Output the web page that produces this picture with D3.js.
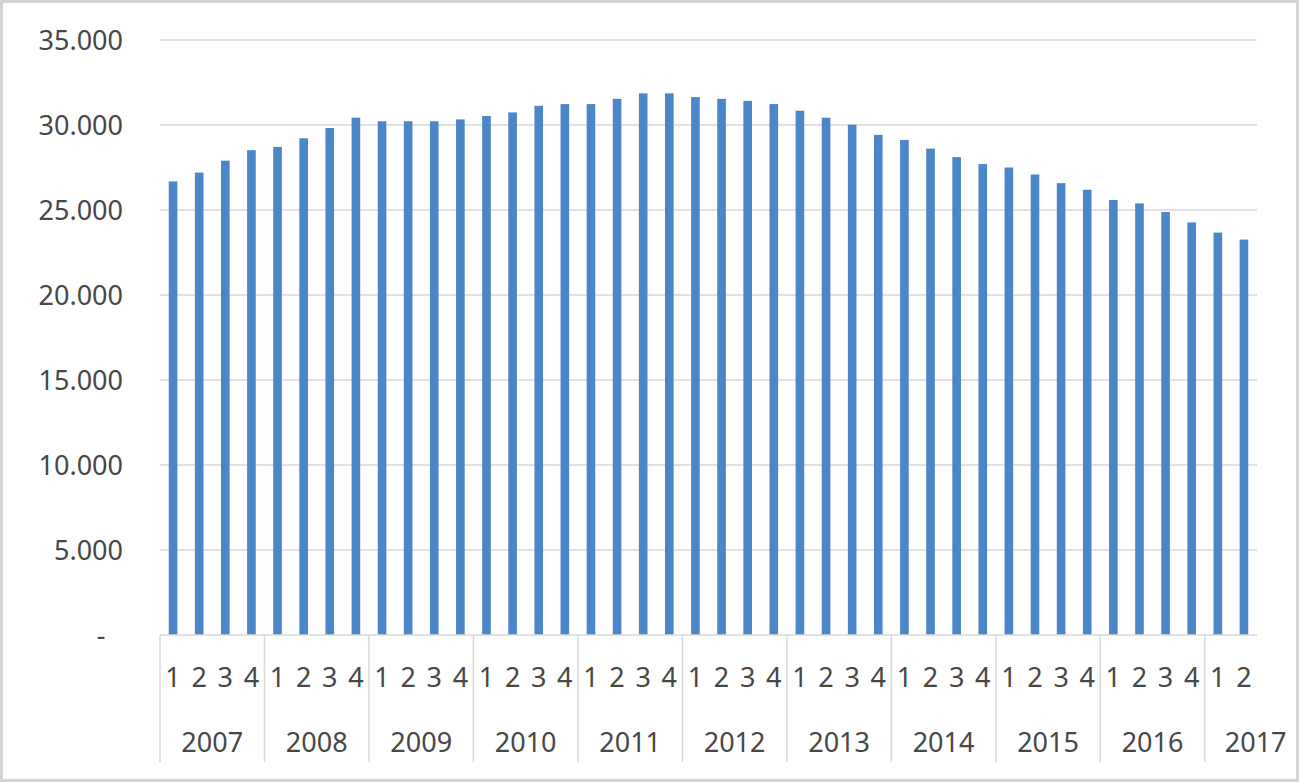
<!DOCTYPE html>
<html>
<head>
<meta charset="utf-8">
<script src="https://cdn.jsdelivr.net/npm/d3@7"></script>
<style>
  html, body { margin: 0; padding: 0; background: #fff; }
  svg { display: block; }
  text { font-family: "Noto Sans", "Open Sans", sans-serif; fill: #474747; }
</style>
</head>
<body>
<svg id="chart" width="1299" height="782"></svg>
<script>
// ---- data ----
const years = ["2007","2008","2009","2010","2011","2012","2013","2014","2015","2016","2017"];
const quartersPerYear = [4,4,4,4,4,4,4,4,4,4,2];
const values = [
  26680, 27200, 27900, 28520,
  28710, 29220, 29820, 30430,
  30220, 30220, 30220, 30330,
  30530, 30740, 31130, 31230,
  31230, 31540, 31860, 31860,
  31640, 31540, 31420, 31230,
  30840, 30430, 30020, 29420,
  29120, 28610, 28110, 27700,
  27500, 27090, 26580, 26190,
  25590, 25390, 24880, 24270,
  23670, 23260
];
const yTicks = [0, 5000, 10000, 15000, 20000, 25000, 30000, 35000];
const yTickLabels = ["-", "5.000", "10.000", "15.000", "20.000", "25.000", "30.000", "35.000"];

// ---- build categories ----
const cats = [];
years.forEach((y, yi) => {
  for (let q = 1; q <= quartersPerYear[yi]; q++) cats.push({ year: y, q: String(q) });
});
cats.forEach((c, i) => c.value = values[i]);

// ---- layout ----
const svg = d3.select("#chart");
const W = 1299, H = 782;
const plot = { left: 160, right: 1257, top: 40, bottom: 635 };

const x = d3.scaleBand()
  .domain(d3.range(cats.length))
  .range([plot.left, plot.right])
  .paddingInner(0.67)
  .paddingOuter(0.335);
const step = x.step();

const y = d3.scaleLinear().domain([0, 35000]).range([plot.bottom, plot.top]);

// outer border
svg.append("rect")
  .attr("x", 1.5).attr("y", 1.5)
  .attr("width", W - 3).attr("height", H - 3)
  .attr("fill", "#fff").attr("stroke", "#d4d4d4").attr("stroke-width", 3);

// gridlines
svg.append("g").selectAll("line")
  .data(yTicks.filter(d => d > 0))
  .join("line")
  .attr("x1", plot.left).attr("x2", plot.right)
  .attr("y1", d => y(d)).attr("y2", d => y(d))
  .attr("stroke", "#d9d9d9").attr("stroke-width", 1.5);

// y tick labels
svg.append("g").selectAll("text")
  .data(yTicks)
  .join("text")
  .attr("x", (d, i) => yTickLabels[i] === "-" ? 101 : 123)
  .attr("y", d => y(d) + 10)
  .attr("text-anchor", (d, i) => yTickLabels[i] === "-" ? "middle" : "end")
  .style("font-size", "27px")
  .text((d, i) => yTickLabels[i]);

// bars
svg.append("g").selectAll("rect")
  .data(cats)
  .join("rect")
  .attr("x", (d, i) => x(i))
  .attr("width", x.bandwidth())
  .attr("y", d => y(d.value))
  .attr("height", d => y(0) - y(d.value))
  .attr("fill", "#4a86c8");

// x axis line
svg.append("line")
  .attr("x1", plot.left).attr("x2", plot.right)
  .attr("y1", plot.bottom).attr("y2", plot.bottom)
  .attr("stroke", "#d9d9d9").attr("stroke-width", 1.5);

// group separators
let start = 0;
const groups = years.map((yr, yi) => {
  const g = { year: yr, x0: plot.left + start * step, x1: plot.left + (start + quartersPerYear[yi]) * step };
  start += quartersPerYear[yi];
  return g;
});
svg.append("g").selectAll("line")
  .data(groups)
  .join("line")
  .attr("x1", d => d.x0).attr("x2", d => d.x0)
  .attr("y1", plot.bottom).attr("y2", 762)
  .attr("stroke", "#d9d9d9").attr("stroke-width", 1.5);

// quarter labels
svg.append("g").selectAll("text")
  .data(cats)
  .join("text")
  .attr("x", (d, i) => x(i) + x.bandwidth() / 2)
  .attr("y", 687)
  .attr("text-anchor", "middle")
  .style("font-size", "27px")
  .text(d => d.q);

// year labels
svg.append("g").selectAll("text")
  .data(groups)
  .join("text")
  .attr("y", 752)
  .attr("text-anchor", "middle")
  .style("font-size", "27px")
  .text(d => d.year)
  .attr("x", function(d) {
    const w = this.getComputedTextLength();
    const mid = (d.x0 + d.x1) / 2;
    return Math.max(mid, d.x0 + w / 2 + 20);
  });
</script>
</body>
</html>
